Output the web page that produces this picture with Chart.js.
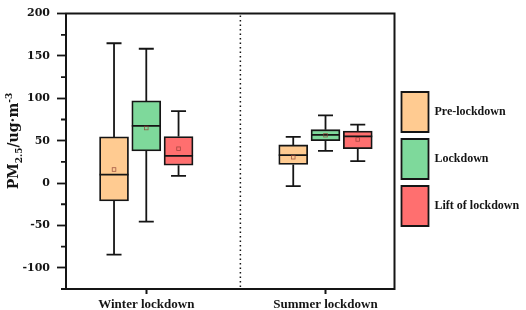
<!DOCTYPE html>
<html>
<head>
<meta charset="utf-8">
<script src="https://cdn.jsdelivr.net/npm/chart.js@4.4.1/dist/chart.umd.min.js"></script>
<style>
  html, body { margin: 0; padding: 0; background: #fff; }
  #wrap { width: 526px; height: 310px; }
</style>
</head>
<body>
<div id="wrap"><canvas id="pm-chart"></canvas></div>
<script>
// PM2.5 box plot: winter vs summer lockdown
var categories = ["Winter lockdown", "Summer lockdown"];
var seriesNames = ["Pre-lockdown", "Lockdown", "Lift of lockdown"];
var seriesColors = ["#FFCB91", "#7ED99B", "#FF6F6F"];

// box stats, one value per category [winter, summer]
var preMin = [-84.5, -3.5];
var preQ1 = [-21, 22];
var preMed = [10, 33];
var preQ3 = [54.5, 45];
var preMax = [165, 54.5];
var preMean = [16, 30.5];

var lockMin = [-45.5, 38];
var lockQ1 = [38, 50];
var lockMed = [67.5, 57];
var lockQ3 = [97, 63];
var lockMax = [158.5, 80];
var lockMean = [65, 56.5];

var liftMin = [8.5, 26];
var liftQ1 = [21, 40.5];
var liftMed = [32, 55];
var liftQ3 = [55, 61.5];
var liftMax = [85, 69];
var liftMean = [40.5, 51.5];

var yTicks = [-100, -50, 0, 50, 100, 150, 200];
var yMinorTicks = [-125, -75, -25, 25, 75, 125, 175];

var stats = [
    { min: preMin, q1: preQ1, med: preMed, q3: preQ3, max: preMax, mean: preMean },
    { min: lockMin, q1: lockQ1, med: lockMed, q3: lockQ3, max: lockMax, mean: lockMean },
    { min: liftMin, q1: liftQ1, med: liftMed, q3: liftQ3, max: liftMax, mean: liftMean }
];

var boxOffset = [-0.18, 0, 0.18];
var separatorAt = 1.525;
var ink = "#151515";

var datasets = seriesNames.map(function (name, s) {
    return {
        label: name,
        backgroundColor: seriesColors[s],
        borderColor: ink,
        borderWidth: 1.8,
        borderSkipped: false,
        barThickness: 29,
        grouped: false,
        data: categories.map(function (c, i) {
            return { x: i + 1 + boxOffset[s], y: [stats[s].q1[i], stats[s].q3[i]] };
        })
    };
});

// whiskers, median, mean markers
var boxExtras = {
    id: "boxExtras",
    afterDatasetsDraw: function (chart) {
        var ctx = chart.ctx;
        var y = chart.scales.y;
        ctx.save();
        ctx.strokeStyle = ink;
        ctx.lineWidth = 1.8;
        chart.data.datasets.forEach(function (ds, s) {
            var meta = chart.getDatasetMeta(s);
            meta.data.forEach(function (bar, i) {
                var st = stats[s];
                var cx = bar.x;
                var half = bar.width / 2;
                var cap = 7.5;
                var pMax = y.getPixelForValue(st.max[i]);
                var pMin = y.getPixelForValue(st.min[i]);
                var pQ1 = y.getPixelForValue(st.q1[i]);
                var pQ3 = y.getPixelForValue(st.q3[i]);
                var pMed = y.getPixelForValue(st.med[i]);
                ctx.beginPath();
                ctx.moveTo(cx, pQ3); ctx.lineTo(cx, pMax);
                ctx.moveTo(cx - cap, pMax); ctx.lineTo(cx + cap, pMax);
                ctx.moveTo(cx, pQ1); ctx.lineTo(cx, pMin);
                ctx.moveTo(cx - cap, pMin); ctx.lineTo(cx + cap, pMin);
                ctx.moveTo(cx - half, pMed); ctx.lineTo(cx + half, pMed);
                ctx.stroke();

                var pMean = y.getPixelForValue(st.mean[i]);
                ctx.save();
                ctx.strokeStyle = "rgba(140, 60, 50, 0.8)";
                ctx.lineWidth = 0.8;
                ctx.strokeRect(cx - 1.8, pMean - 1.8, 3.6, 3.6);
                ctx.restore();
            });
        });
        ctx.restore();
    }
};

// dotted separator, frame, minor ticks, axis title
var frame = {
    id: "frame",
    beforeDatasetsDraw: function (chart) {
        var ctx = chart.ctx;
        var a = chart.chartArea;
        var sx = chart.scales.x.getPixelForValue(separatorAt);
        ctx.save();
        ctx.strokeStyle = ink;
        ctx.lineWidth = 1.5;
        ctx.setLineDash([1.5, 3]);
        ctx.beginPath();
        ctx.moveTo(sx, a.top + 2);
        ctx.lineTo(sx, a.bottom - 2);
        ctx.stroke();
        ctx.restore();
    },
    afterDraw: function (chart) {
        var ctx = chart.ctx;
        var a = chart.chartArea;
        var y = chart.scales.y;
        ctx.save();
        ctx.strokeStyle = ink;
        ctx.lineWidth = 2;
        ctx.beginPath();
        ctx.moveTo(a.left - 1, a.top);
        ctx.lineTo(a.right, a.top);
        ctx.lineTo(a.right, a.bottom + 1);
        ctx.stroke();

        ctx.lineWidth = 1.8;
        ctx.beginPath();
        yMinorTicks.forEach(function (v) {
            var py = y.getPixelForValue(v);
            ctx.moveTo(a.left - 5, py);
            ctx.lineTo(a.left, py);
        });
        ctx.stroke();

        // rotated title PM2.5/ug·m-3
        var big = "bold 14px 'DejaVu Serif'";
        var small = "bold 9px 'DejaVu Serif'";
        var parts = [
            { t: "PM", f: big, dy: 0 },
            { t: "2.5", f: small, dy: 4 },
            { t: "/ug\u00b7m", f: big, dy: 0 },
            { t: "-3", f: small, dy: -6 }
        ];
        var total = 0;
        parts.forEach(function (p) { ctx.font = p.f; p.w = ctx.measureText(p.t).width; total += p.w; });
        ctx.translate(18, 141);
        ctx.rotate(-Math.PI / 2);
        ctx.fillStyle = ink;
        ctx.textBaseline = "alphabetic";
        var px = -total / 2;
        parts.forEach(function (p) {
            ctx.font = p.f;
            ctx.fillText(p.t, px, p.dy);
            px += p.w;
        });
        ctx.restore();
    }
};

var chart = new Chart(document.getElementById("pm-chart"), {
    type: "bar",
    data: { datasets: datasets },
    options: {
        responsive: true,
        maintainAspectRatio: false,
        animation: false,
        devicePixelRatio: 1,
        layout: { padding: { top: 8, left: 0, right: 0, bottom: 0 } },
        plugins: {
            tooltip: { enabled: false },
            legend: {
                position: "right",
                labels: {
                    boxWidth: 27,
                    boxHeight: 40,
                    padding: 7,
                    color: ink,
                    font: { family: "'Liberation Serif'", weight: "bold", size: 12 }
                }
            }
        },
        scales: {
            x: {
                type: "linear",
                offset: false,
                min: 0.552,
                max: 2.385,
                afterFit: function (scale) { scale.height = 21; },
                afterBuildTicks: function (scale) {
                    scale.ticks = categories.map(function (c, i) { return { value: i + 1 }; });
                },
                grid: { drawOnChartArea: false, offset: false, tickLength: 5, tickWidth: 2, tickColor: ink },
                border: { display: true, color: ink, width: 2 },
                ticks: {
                    padding: 3,
                    color: ink,
                    font: { family: "'Liberation Serif'", weight: "bold", size: 13 },
                    callback: function (v) { return categories[v - 1]; }
                }
            },
            y: {
                min: -125,
                max: 200,
                afterFit: function (scale) { scale.width = 66; },
                afterBuildTicks: function (scale) {
                    scale.ticks = yTicks.map(function (v) { return { value: v }; });
                },
                grid: { drawOnChartArea: false, tickLength: 9, tickWidth: 1.8, tickColor: ink },
                border: { display: true, color: ink, width: 2 },
                ticks: {
                    padding: 7,
                    color: ink,
                    font: { family: "'DejaVu Serif'", weight: "bold", size: 11 }
                }
            }
        }
    },
    plugins: [boxExtras, frame]
});
</script>
</body>
</html>
